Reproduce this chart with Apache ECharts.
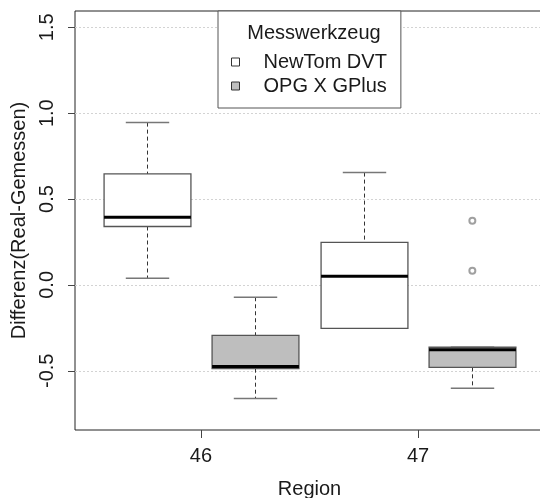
<!DOCTYPE html>
<html>
<head>
<meta charset="utf-8">
<script src="https://cdn.jsdelivr.net/npm/echarts@6/dist/echarts.min.js"></script>
<style>
  html, body { margin: 0; padding: 0; background: #fff; }
  #chart { width: 540px; height: 498px; }
</style>
</head>
<body>
<div id="chart"></div>
<script>
// Daten
var regions = ['46', '47'];
var tools = ['NewTom DVT', 'OPG X GPlus'];
// je Region: [min, Q1, Median, Q3, max]
var newTomStats = [
  [0.038, 0.34, 0.394, 0.646, 0.945],
  [-0.253, -0.253, 0.05, 0.248, 0.654]
];
var opgStats = [
  [-0.662, -0.488, -0.475, -0.294, -0.072],
  [-0.602, -0.48, -0.377, -0.363, -0.363]
];
// Ausreisser: [Regionsindex, Wert]
var opgOutliers = [[1, 0.374], [1, 0.083]];
var yTicks = [-0.5, 0, 0.5, 1, 1.5];

var BOX_WIDTH = 0.8;
var FONT = 'Liberation Sans, Arial, sans-serif';

// Position auf der x-Achse: zwei Boxen je Region
function pos(regionIdx, toolIdx) {
  return regionIdx * 2 + toolIdx + 1;
}

function boxData(stats, toolIdx) {
  return stats.map(function (s, i) {
    return [pos(i, toolIdx)].concat(s);
  });
}

function renderBox(params, api) {
  var x = api.value(0);
  var lo = api.coord([x, api.value(1)]);
  var q1 = api.coord([x, api.value(2)]);
  var md = api.coord([x, api.value(3)]);
  var q3 = api.coord([x, api.value(4)]);
  var hi = api.coord([x, api.value(5)]);
  var half = api.size([BOX_WIDTH, 0])[0] / 2;
  var cx = Math.round(lo[0]) + 0.5;
  var dash = { stroke: '#333', lineWidth: 1, lineDash: [4, 3] };
  var cap = { stroke: '#777', lineWidth: 1.5 };
  return {
    type: 'group',
    children: [
      { type: 'line', shape: { x1: cx, y1: hi[1], x2: cx, y2: q3[1] }, style: dash },
      { type: 'line', shape: { x1: cx, y1: q1[1], x2: cx, y2: lo[1] }, style: dash },
      { type: 'line', shape: { x1: cx - half / 2, y1: hi[1], x2: cx + half / 2, y2: hi[1] }, style: cap },
      { type: 'line', shape: { x1: cx - half / 2, y1: lo[1], x2: cx + half / 2, y2: lo[1] }, style: cap },
      {
        type: 'rect',
        shape: { x: cx - half, y: q3[1], width: half * 2, height: q1[1] - q3[1] },
        style: { fill: api.visual('color'), stroke: '#555', lineWidth: 1.3 }
      },
      { type: 'line', shape: { x1: cx - half, y1: md[1], x2: cx + half, y2: md[1] }, style: { stroke: '#000', lineWidth: 3 } }
    ]
  };
}

var chart = echarts.init(document.getElementById('chart'));

chart.setOption({
  animation: false,
  backgroundColor: '#fff',
  textStyle: { fontFamily: FONT },
  grid: {
    left: 75, top: 11, width: 469, height: 419,
    outerBoundsMode: 'none', containLabel: false,
    show: true, borderColor: '#222', borderWidth: 1
  },
  title: {
    text: 'Messwerkzeug',
    left: 309, top: 18, textAlign: 'center', z: 10,
    textStyle: { fontFamily: FONT, fontSize: 20, fontWeight: 'normal', color: '#1a1a1a' }
  },
  legend: {
    orient: 'vertical',
    left: 218, top: 11,
    padding: [40, 14, 11, 13],
    backgroundColor: '#fff',
    borderColor: '#555', borderWidth: 1,
    itemWidth: 8, itemHeight: 8, itemGap: 2,
    icon: 'rect',
    z: 5,
    textStyle: { fontFamily: FONT, fontSize: 20, color: '#1a1a1a', lineHeight: 22, padding: [0, 0, 0, 19] },
    data: [
      { name: tools[0], itemStyle: { color: '#fff', borderColor: '#333', borderWidth: 1 } },
      { name: tools[1], itemStyle: { color: '#bebebe', borderColor: '#333', borderWidth: 1 } }
    ]
  },
  xAxis: {
    type: 'value',
    min: 0.34, max: 4.66,
    name: 'Region', nameLocation: 'middle', nameGap: 49,
    nameTextStyle: { fontFamily: FONT, fontSize: 20, color: '#1a1a1a' },
    axisLine: { show: false, onZero: false },
    axisTick: { show: true, customValues: [1.5, 3.5], length: 8, lineStyle: { color: '#444' } },
    axisLabel: {
      customValues: [1.5, 3.5], margin: 16,
      fontFamily: FONT, fontSize: 20, color: '#1a1a1a',
      formatter: function (v) { return regions[Math.round((v - 1.5) / 2)]; }
    },
    splitLine: { show: false }
  },
  yAxis: {
    type: 'value',
    min: -0.845, max: 1.595, splitNumber: 5,
    name: 'Differenz(Real-Gemessen)', nameLocation: 'middle', nameGap: 44, nameRotate: 90,
    nameTextStyle: { fontFamily: FONT, fontSize: 20, color: '#1a1a1a' },
    axisLine: { show: false, onZero: false },
    axisTick: { show: true, customValues: yTicks, length: 7, lineStyle: { color: '#444' } },
    axisLabel: {
      customValues: yTicks, rotate: 90, margin: 18,
      fontFamily: FONT, fontSize: 20, color: '#1a1a1a',
      formatter: function (v) { return v.toFixed(1); }
    },
    splitLine: { show: true, lineStyle: { color: '#d3d3d3', type: [2, 2], width: 1 } }
  },
  series: [
    {
      name: tools[0], type: 'custom', renderItem: renderBox,
      itemStyle: { color: '#fff' },
      encode: { x: 0, y: [1, 2, 3, 4, 5] },
      data: boxData(newTomStats, 0), z: 3
    },
    {
      name: tools[1], type: 'custom', renderItem: renderBox,
      itemStyle: { color: '#bebebe' },
      encode: { x: 0, y: [1, 2, 3, 4, 5] },
      data: boxData(opgStats, 1), z: 3
    },
    {
      name: 'Ausreisser', type: 'scatter',
      symbol: 'emptyCircle', symbolSize: 6,
      itemStyle: { color: '#888', borderWidth: 1 },
      data: opgOutliers.map(function (o) { return [pos(o[0], 1), o[1]]; }),
      z: 3
    }
  ]
});
</script>
</body>
</html>
